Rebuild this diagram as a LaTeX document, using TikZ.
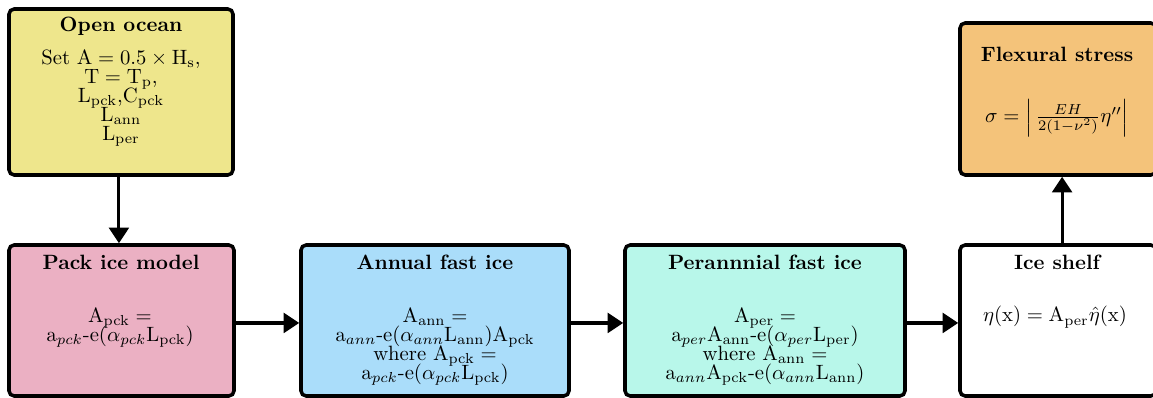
\documentclass[tikz,border=0pt]{standalone}
\usetikzlibrary{fit,arrows.meta}
\definecolor{oceanc}{RGB}{238,230,140}
\definecolor{packc}{RGB}{235,176,195}
\definecolor{annc}{RGB}{170,221,250}
\definecolor{perc}{RGB}{184,247,234}
\definecolor{flexc}{RGB}{244,195,122}
\newcommand{\myBodyFont}{\fontsize{10}{9.2}\selectfont\lineskiplimit=-10pt\relax\lineskip=0pt\relax}
\begin{document}
\begin{tikzpicture}[x=0.4831pt,y=-0.4831pt,
  box/.style={draw=black, line width=1.7pt, rounded corners=2.5pt, inner sep=0pt},
  ttl/.style={font=\bfseries, anchor=base, inner sep=0pt},
  body/.style={align=center, anchor=north, inner sep=0pt, font=\myBodyFont},
  arr/.style={line width=1.5pt, -{Triangle[length=7.5pt,width=9.5pt]}}]
\useasboundingbox (0,0) rectangle (1153,398);
\clip (0,0) rectangle (1153,398);
% coordinates of box corners
\coordinate (o1) at (9,9);     \coordinate (o2) at (233,175);
\coordinate (p1) at (9,245);   \coordinate (p2) at (234,396);
\coordinate (a1) at (301,245); \coordinate (a2) at (569,396);
\coordinate (r1) at (625,245); \coordinate (r2) at (905,396);
\coordinate (s1) at (960,245); \coordinate (s2) at (1156,396);
\coordinate (f1) at (960,23);  \coordinate (f2) at (1156,175);
% boxes
\node[box, fill=oceanc, fit=(o1)(o2)] (open) {};
\node[box, fill=packc, fit=(p1)(p2)] (pack) {};
\node[box, fill=annc, fit=(a1)(a2)] (annual) {};
\node[box, fill=perc, fit=(r1)(r2)] (per) {};
\node[box, fill=white, fit=(s1)(s2)] (shelf) {};
\node[box, fill=flexc, fit=(f1)(f2)] (flex) {};
% titles
\node[ttl] (topen) at (121,32) {Open ocean};
\node[ttl] (tpack) at (121,270) {Pack ice model};
\node[ttl] (tann) at (435,270) {Annual fast ice};
\node[ttl] (tper) at (765,270) {Perannnial fast ice};
\node[ttl] (tshelf) at (1057,270) {Ice shelf};
\node[ttl] (tflex) at (1057,62) {Flexural stress};
% bodies
\node[body] (bopen) at (121,49) {Set $\mathrm{A} = 0.5\times\mathrm{H_s}$,\\
  $\mathrm{T} = \mathrm{T_p}$,\\
  $\mathrm{L_{pck}}$,$\mathrm{C_{pck}}$\\
  $\mathrm{L_{ann}}$\\
  $\mathrm{L_{per}}$};
\node[body] (bpack) at (120,308) {$\mathrm{A_{pck}} =$\\
  $\mathrm{a}_{pck}$-e($\alpha_{pck}\mathrm{L_{pck}}$)};
\node[body] (bann) at (435,308) {$\mathrm{A_{ann}} =$\\
  $\mathrm{a}_{ann}$-e($\alpha_{ann}\mathrm{L_{ann}}$)$\mathrm{A_{pck}}$\\
  where $\mathrm{A_{pck}} =$\\
  $\mathrm{a}_{pck}$-e($\alpha_{pck}\mathrm{L_{pck}}$)};
\node[body] (bper) at (765,308) {$\mathrm{A_{per}} =$\\
  $\mathrm{a}_{per}\mathrm{A_{ann}}$-e($\alpha_{per}\mathrm{L_{per}}$)\\
  where $\mathrm{A_{ann}} =$\\
  $\mathrm{a}_{ann}\mathrm{A_{pck}}$-e($\alpha_{ann}\mathrm{L_{ann}}$)};
\node[anchor=base, inner sep=0pt] (bshelf) at (1055,322)
  {$\eta(\mathrm{x}) = \mathrm{A_{per}}\hat{\eta}(\mathrm{x})$};
\node[anchor=base, inner sep=0pt] (bflex) at (1057,123)
  {$\sigma = \left|\,\frac{EH}{2(1-\nu^2)}\eta''\right|$};
% connectors
\draw[arr] ([xshift=-1pt]open.south) -- ([xshift=-1pt]open.south |- pack.north);
\draw[arr] ([yshift=-1.2pt]pack.east) -- ([yshift=-1.2pt]pack.east -| annual.west);
\draw[arr] ([yshift=-1.2pt]annual.east) -- ([yshift=-1.2pt]annual.east -| per.west);
\draw[arr] ([yshift=-1.2pt]per.east) -- ([yshift=-1.2pt]per.east -| shelf.west);
\draw[arr] ([xshift=2pt]shelf.north) -- ([xshift=2pt]shelf.north |- flex.south);
\end{tikzpicture}
\end{document}
